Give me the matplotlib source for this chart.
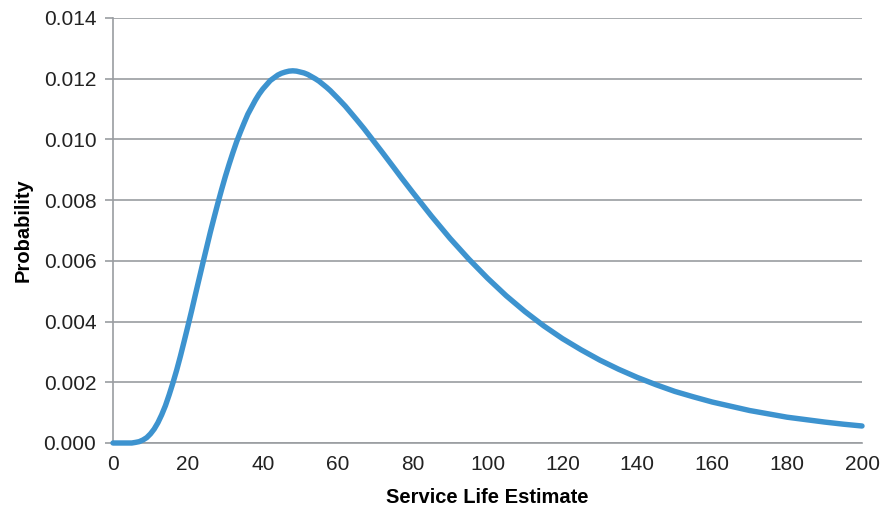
import matplotlib
matplotlib.use("Agg")
import matplotlib.pyplot as plt

# Values
service_life = [0, 1, 2, 3, 4, 5, 6, 7, 8, 9, 10, 11, 12, 13, 14, 15, 16, 17, 18, 19,
                20, 21, 22, 23, 24, 25, 26, 27, 28, 29, 30, 31, 32, 33, 34, 35, 36,
                37, 38, 39, 40, 41, 42, 43, 44, 45, 46, 47, 48, 49, 50, 51, 52, 53,
                54, 55, 56, 57, 58, 60, 62, 65, 67, 70, 72, 75, 77, 80, 85, 90, 95,
                100, 105, 110, 115, 120, 125, 130, 135, 140, 145, 150, 155, 160, 165,
                170, 175, 180, 185, 190, 195, 200]
probability = [0.0, 0.0, 0.0, 0.0, 0.0, 0.0, 0.00002, 0.000045, 0.0001, 0.000177,
               0.0003, 0.00046, 0.00067, 0.00093, 0.00123, 0.00159, 0.00198, 0.0024,
               0.00286, 0.00335, 0.00385, 0.00436, 0.00489, 0.00541, 0.00593, 0.00644,
               0.00695, 0.00743, 0.0079, 0.00835, 0.00878, 0.00918, 0.00956, 0.00992,
               0.01024, 0.01054, 0.01083, 0.01106, 0.01129, 0.01149, 0.01166, 0.0118,
               0.01194, 0.01203, 0.01212, 0.01218, 0.01222, 0.01225, 0.01226, 0.01225,
               0.01222, 0.01219, 0.01214, 0.01207, 0.012, 0.01192, 0.01182, 0.01172,
               0.01161, 0.01136, 0.0111, 0.01066, 0.01036, 0.00988, 0.00956, 0.00907,
               0.00874, 0.00826, 0.00748, 0.00674, 0.00606, 0.00543, 0.00485, 0.00433,
               0.00386, 0.00344, 0.00307, 0.00273, 0.00243, 0.00216, 0.00192, 0.0017,
               0.00152, 0.00135, 0.00121, 0.00107, 0.00096, 0.00085, 0.00077, 0.00069,
               0.00062, 0.00056]
x_ticks = [0, 20, 40, 60, 80, 100, 120, 140, 160, 180, 200]
y_ticks = [0.000, 0.002, 0.004, 0.006, 0.008, 0.010, 0.012, 0.014]

plt.rcParams['font.family'] = ['Liberation Sans', 'DejaVu Sans']

fig = plt.figure(figsize=(8.9, 5.13), dpi=100)
ax = fig.add_axes([113/890, 1 - 443/513, (862 - 113)/890, (443 - 18)/513])

grid_color = '#9a9da1'
ax.plot(service_life, probability, color='#3d93cf', linewidth=3.9,
        solid_capstyle='round', solid_joinstyle='round', zorder=3, clip_on=False)

ax.set_xlim(0, 200)
ax.set_ylim(0, 0.014)
ax.set_xticks(x_ticks)
ax.set_xticklabels([str(v) for v in x_ticks])
ax.set_yticks(y_ticks)
ax.set_yticklabels([f"{v:.3f}" for v in y_ticks])

ax.yaxis.grid(True, color=grid_color, linewidth=1.2)
ax.set_axisbelow(True)
for s in ['top', 'right']:
    ax.spines[s].set_visible(False)
ax.spines['left'].set_color(grid_color)
ax.spines['left'].set_linewidth(1.2)
ax.spines['bottom'].set_color(grid_color)
ax.spines['bottom'].set_linewidth(1.2)

ax.tick_params(axis='y', length=6, width=1.2, color=grid_color, labelsize=15,
               labelcolor='#222222', pad=6)
ax.tick_params(axis='x', length=0, labelsize=15, labelcolor='#222222', pad=9)

ax.set_xlabel('Service Life Estimate', fontsize=14.5, fontweight='bold', labelpad=10)
ax.set_ylabel('Probability', fontsize=14.5, fontweight='bold', labelpad=8)

fig.savefig('out.png', dpi=100)
